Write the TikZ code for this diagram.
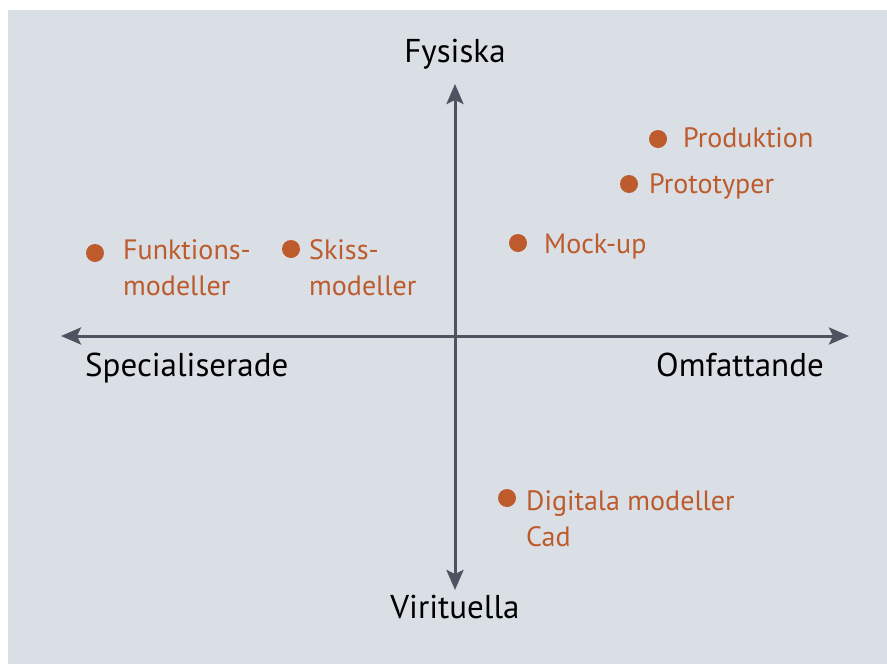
\documentclass[tikz,border=0pt]{standalone}
\usepackage{fontspec}
\setmainfont{PT Sans}
\usetikzlibrary{arrows.meta}
\definecolor{panel}{HTML}{DADEE5}
\definecolor{axisgray}{HTML}{4E5360}
\definecolor{rust}{HTML}{BD5B2C}
\begin{document}
\begin{tikzpicture}[x=1pt,y=-1pt,
  axis/.style={draw=axisgray,line width=3pt,
    arrows={Stealth[length=20pt,width=17pt,inset=4pt]-Stealth[length=20pt,width=17pt,inset=4pt]}},
  dot/.style={circle,fill=rust,inner sep=0pt,minimum size=18pt},
  item/.style={text=rust,font=\fontsize{28}{36}\selectfont,anchor=base west,align=left,inner sep=0pt},
  pole/.style={text=black,font=\fontsize{33}{36}\selectfont,anchor=base,inner sep=0pt}]
  % canvas and panel
  \useasboundingbox (0,0) rectangle (887,664);
  \fill[white] (0,0) rectangle (887,664);
  \fill[panel] (8,10) rectangle (887,664);

  % axes
  \coordinate (top) at (455,84);
  \coordinate (bottom) at (455,590);
  \coordinate (left) at (61,336);
  \coordinate (right) at (849,336);
  \draw[axis] (bottom) -- (top);
  \draw[axis] (left) -- (right);

  % pole labels
  \node[pole] (fys) at (455,62) {Fysiska};
  \node[pole] (vir) at (455,618) {Virituella};
  \node[pole,anchor=base west] (spec) at (85,376) {Specialiserade};
  \node[pole,anchor=base east] (omf) at (824,376) {Omfattande};

  % model types (two-line labels are placed by their last baseline)
  \node[dot] (d1) at (658,139) {};
  \node[item] (t1) at (683,147) {Produktion};
  \node[dot] (d2) at (629,184) {};
  \node[item] (t2) at (649,193) {Prototyper};
  \node[dot] (d3) at (518,243) {};
  \node[item] (t3) at (544,253) {Mock-up};
  \node[dot] (d4) at (95,253) {};
  \node[item] (t4) at (123,295) {Funktions-\\modeller};
  \node[dot] (d5) at (291,249) {};
  \node[item] (t5) at (309,295) {Skiss-\\modeller};
  \node[dot] (d6) at (507,498) {};
  \node[item] (t6) at (526,546) {Digitala modeller\\Cad};
\end{tikzpicture}
\end{document}
